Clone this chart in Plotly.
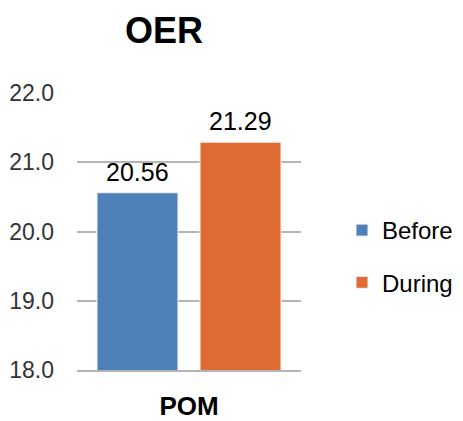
import plotly.graph_objects as go

categories = ["POM"]
series_names = ["Before", "During"]
before_values = [20.56]
during_values = [21.29]
y_ticks = [18.0, 19.0, 20.0, 21.0, 22.0]
colors = ["#4E80BA", "#DF6B35"]

# The page body adds an 8px offset; figure laid out in its own coordinates.
W, H = 455, 413

fig = go.Figure()
series = [("Before", before_values, colors[0], "a", -51.5),
          ("During", during_values, colors[1], "b", 51.5)]
for name, vals, col, grp, shift in series:
    fig.add_trace(go.Bar(
        x=categories, y=vals, name=name, legendgroup=grp,
        marker=dict(color=col, line=dict(color="#F4F4F4", width=1)),
    ))
    for c, v in zip(categories, vals):
        fig.add_annotation(x=c, y=v, text=f"{v:.2f}", showarrow=False,
                           xshift=shift, yshift=5, yanchor="bottom",
                           font=dict(family="Liberation Sans, Arial", size=25, color="#000000"))

fig.update_layout(
    template="none",
    width=W, height=H,
    margin=dict(l=69, r=W-293, t=85, b=H-362, autoexpand=False),
    paper_bgcolor="white", plot_bgcolor="white",
    barmode="group", bargap=0.08, bargroupgap=0.214,
    font=dict(family="Liberation Sans, Arial", color="#000000"),
    title=dict(text="<b>OER</b>", font=dict(size=36, color="#000000"),
               xref="container", yref="container", x=156/W, xanchor="center",
               y=1-22.5/H, yanchor="middle"),
    legend=dict(xref="container", yref="container", x=334/W, xanchor="left",
                y=1-248.5/H, yanchor="middle", borderwidth=0,
                font=dict(size=24, color="#000000"), tracegroupgap=18,
                bgcolor="rgba(0,0,0,0)"),
    showlegend=True,
)
fig.update_yaxes(range=[18, 22], tickvals=y_ticks, ticktext=[f"{v:.1f}" for v in y_ticks],
                 showgrid=True, gridcolor="#B5B5B5", gridwidth=2, zeroline=False,
                 showline=False, ticks="", ticklabelstandoff=22, automargin=False,
                 tickfont=dict(size=23, color="#333333"))
fig.update_xaxes(showline=True, linecolor="#B5B5B5", linewidth=2, ticks="", showgrid=False,
                 tickfont=dict(size=26, color="#000000"), ticklabelstandoff=12,
                 automargin=False, tickprefix="<b>", ticksuffix="</b>")

fig.write_html("out.html")
